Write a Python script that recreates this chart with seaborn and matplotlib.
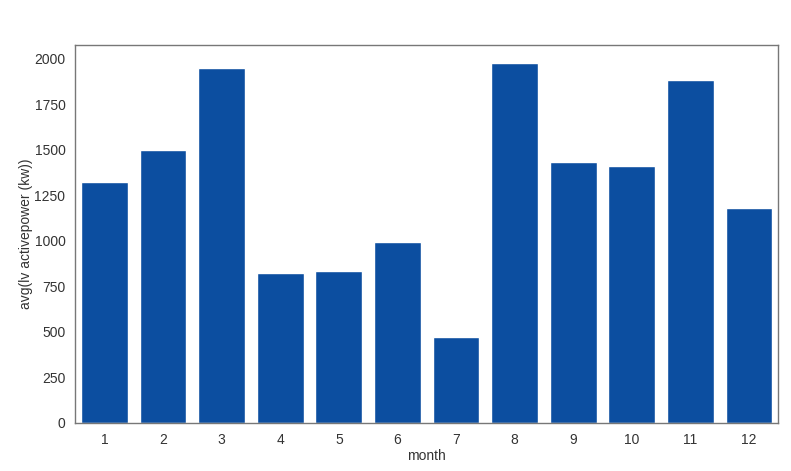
import pandas as pd
import numpy as np
import matplotlib
matplotlib.use("Agg")
import matplotlib.pyplot as plt
import seaborn as sns

months = [1, 2, 3, 4, 5, 6, 7, 8, 9, 10, 11, 12]
avg_power = [1323, 1500, 1949, 822, 835, 995, 474, 1976, 1434, 1412, 1884, 1178]

df = pd.DataFrame({"month": months, "avg(lv activepower (kw))": avg_power})

sns.set_style("white")
plt.rcParams["font.family"] = ["Liberation Sans", "DejaVu Sans"]

fig = plt.figure(figsize=(7.91, 4.71), dpi=100)
ax = fig.add_axes([0.095, 0.102, 0.889, 0.802])

sns.barplot(x="month", y="avg(lv activepower (kw))", data=df, color="#0c4ea0",
            saturation=1, width=0.8, ax=ax)

for side in ["top", "right", "left", "bottom"]:
    ax.spines[side].set_color("#777777")
    ax.spines[side].set_linewidth(1.0)

ax.tick_params(labelsize=10, colors="#333333")
ax.set_xlabel("month", fontsize=10, color="#333333", labelpad=2)
ax.set_ylabel("avg(lv activepower (kw))", fontsize=10, color="#333333", labelpad=1)

plt.savefig("out.png", dpi=100)
